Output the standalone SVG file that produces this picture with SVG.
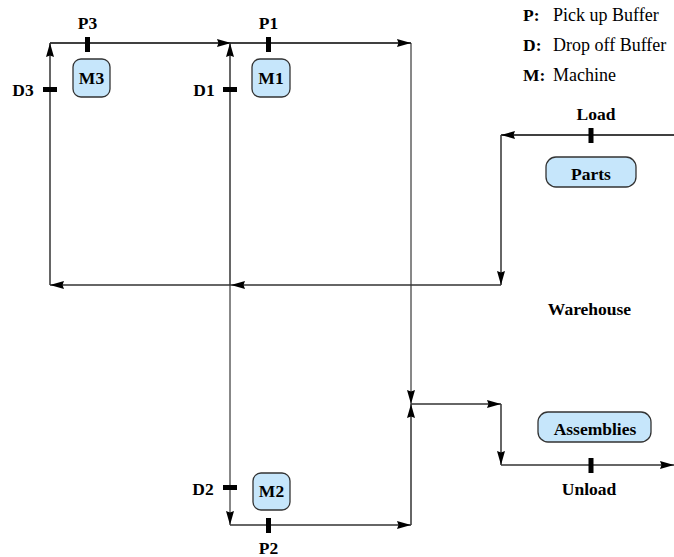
<svg xmlns="http://www.w3.org/2000/svg" width="674" height="557" viewBox="0 0 674 557">
<style>
.ln{stroke:#333;stroke-width:1.5;fill:none}
.tn{stroke:#111;stroke-width:1;fill:none}
.bk{stroke:#000;stroke-width:1.4;fill:none}
.a{marker-end:url(#ar)}
.tick{fill:#000}
.box{fill:#c6e6fb;stroke:#333;stroke-width:1.3}
text{font-family:'Liberation Serif','Times New Roman','DejaVu Serif',serif}
.lb{font-weight:bold;font-size:17.5px;fill:#000}
.lg{font-size:18px;fill:#000}
</style>
<defs>
<marker id="ar" markerUnits="userSpaceOnUse" markerWidth="15" markerHeight="10" refX="14" refY="5" orient="auto">
<path d="M0,1 L14,5 L0,9 L1.5,5 Z" fill="#000"/>
</marker>
</defs>
<rect width="674" height="557" fill="#fff"/>
<g id="connectors">
<line class="bk a" x1="50" y1="43" x2="231" y2="43"/>
<line class="bk a" x1="231" y1="43" x2="411" y2="43"/>
<line class="tn a" x1="411" y1="43" x2="411" y2="404"/>
<line class="ln a" x1="50" y1="285" x2="50" y2="43"/>
<line class="ln a" x1="230" y1="285" x2="230" y2="43"/>
<line class="tn a" x1="230" y1="285" x2="230" y2="525"/>
<line class="ln a" x1="230" y1="525" x2="411" y2="525"/>
<line class="ln a" x1="411" y1="525" x2="411" y2="404"/>
<line class="ln a" x1="411" y1="404" x2="501" y2="404"/>
<line class="ln a" x1="501" y1="404" x2="501" y2="465"/>
<line class="ln a" x1="501" y1="465" x2="674" y2="465"/>
<line class="bk a" x1="674" y1="135" x2="501" y2="135"/>
<line class="ln a" x1="501" y1="135" x2="501" y2="285"/>
<line class="ln a" x1="501" y1="285" x2="231" y2="285"/>
<line class="ln a" x1="231" y1="285" x2="50" y2="285"/>
</g>
<g id="P3"><rect class="tick" x="85" y="37" width="5" height="15"/><text class="lb" x="87.5" y="29" text-anchor="middle">P3</text></g>
<g id="P1"><rect class="tick" x="266" y="37" width="5" height="15"/><text class="lb" x="268.5" y="29" text-anchor="middle">P1</text></g>
<g id="D3"><rect class="tick" x="43" y="87" width="14" height="5"/><text class="lb" x="23" y="96" text-anchor="middle">D3</text></g>
<g id="D1"><rect class="tick" x="223" y="87" width="14" height="5"/><text class="lb" x="204" y="96" text-anchor="middle">D1</text></g>
<g id="M3"><rect class="box" x="73" y="59" width="37" height="38" rx="8"/><text class="lb" x="91.5" y="84" text-anchor="middle">M3</text></g>
<g id="M1"><rect class="box" x="252" y="59" width="38" height="38" rx="8"/><text class="lb" x="271" y="84" text-anchor="middle">M1</text></g>
<g id="D2"><rect class="tick" x="223" y="485" width="14" height="5"/><text class="lb" x="203" y="495" text-anchor="middle">D2</text></g>
<g id="M2"><rect class="box" x="253" y="473" width="37" height="37" rx="8"/><text class="lb" x="271.5" y="497" text-anchor="middle">M2</text></g>
<g id="P2"><rect class="tick" x="266" y="518" width="5" height="15"/><text class="lb" x="268.5" y="554" text-anchor="middle">P2</text></g>
<g id="Load"><rect class="tick" x="588.5" y="128" width="5" height="15"/><text class="lb" x="596" y="120" text-anchor="middle">Load</text></g>
<g id="Parts"><rect class="box" x="546" y="157" width="90" height="30" rx="10"/><text class="lb" x="591" y="180" text-anchor="middle">Parts</text></g>
<g id="Warehouse"><text class="lb" x="589.5" y="315" text-anchor="middle">Warehouse</text></g>
<g id="Assemblies"><rect class="box" x="538" y="412" width="113" height="30" rx="10"/><text class="lb" x="595" y="435" text-anchor="middle">Assemblies</text></g>
<g id="Unload"><rect class="tick" x="588.5" y="458" width="5" height="15"/><text class="lb" x="589" y="495" text-anchor="middle">Unload</text></g>
<g id="legend">
<text class="lb" x="523" y="21">P:</text><text class="lg" x="553" y="21">Pick up Buffer</text>
<text class="lb" x="523" y="51">D:</text><text class="lg" x="553" y="51">Drop off Buffer</text>
<text class="lb" x="523" y="81">M:</text><text class="lg" x="553" y="81">Machine</text>
</g>
</svg>
